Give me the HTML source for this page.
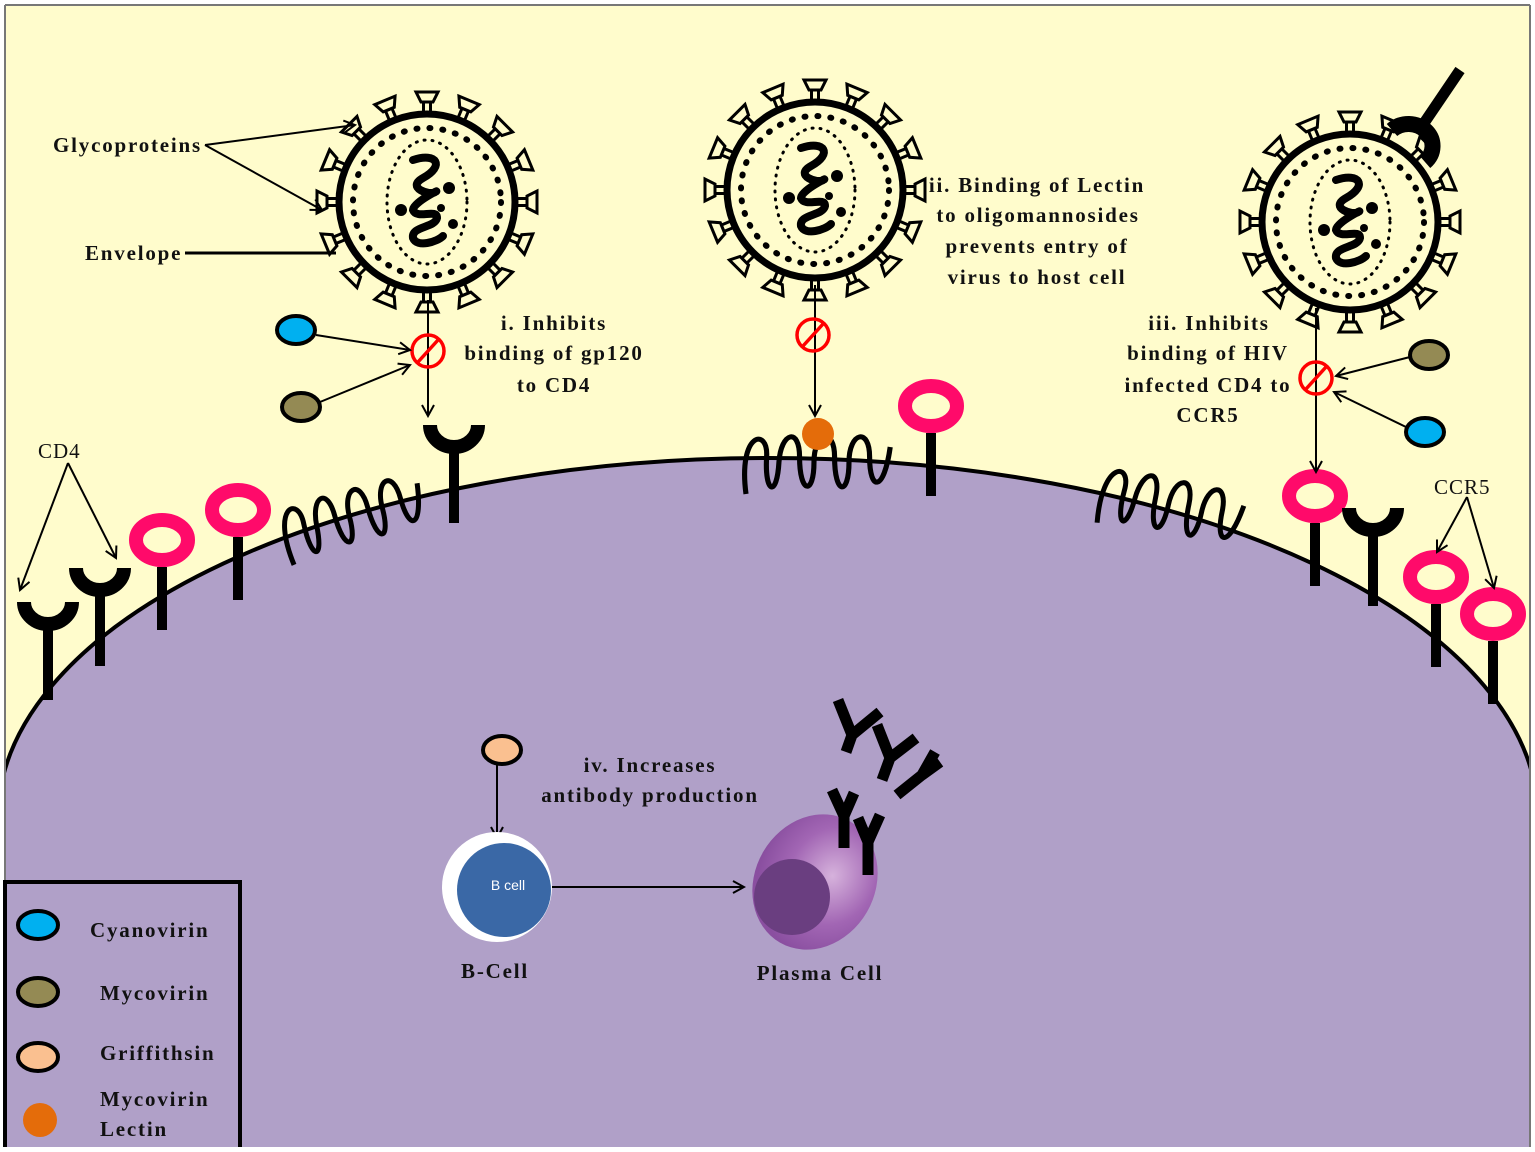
<!DOCTYPE html>
<html><head><meta charset="utf-8"><style>
html,body{margin:0;padding:0;background:#fff;}
svg{display:block;}
text{font-family:"Liberation Serif",serif;font-weight:bold;font-size:21px;fill:#111;letter-spacing:1.8px;}
</style></head><body>
<svg width="1535" height="1152" viewBox="0 0 1535 1152" xmlns="http://www.w3.org/2000/svg">
<defs>
<marker id="ah" markerWidth="14" markerHeight="14" refX="12" refY="7" orient="auto" markerUnits="userSpaceOnUse">
<path d="M1,1 L12,7 L1,13" fill="none" stroke="#000" stroke-width="2"/>
</marker>
<g id="spike">
<rect x="-3.5" y="-100" width="7" height="12" fill="#fffccc" stroke="#000" stroke-width="3"/>
<path d="M-11,-110 L11,-110 L6,-100 L-6,-100Z" fill="#fffccc" stroke="#000" stroke-width="3"/>
</g>
<g id="virus">
<use href="#spike" transform="rotate(0)"/><use href="#spike" transform="rotate(22.5)"/>
<use href="#spike" transform="rotate(45)"/><use href="#spike" transform="rotate(67.5)"/>
<use href="#spike" transform="rotate(90)"/><use href="#spike" transform="rotate(112.5)"/>
<use href="#spike" transform="rotate(135)"/><use href="#spike" transform="rotate(157.5)"/>
<use href="#spike" transform="rotate(180)"/><use href="#spike" transform="rotate(202.5)"/>
<use href="#spike" transform="rotate(225)"/><use href="#spike" transform="rotate(247.5)"/>
<use href="#spike" transform="rotate(270)"/><use href="#spike" transform="rotate(292.5)"/>
<use href="#spike" transform="rotate(315)"/><use href="#spike" transform="rotate(337.5)"/>
<circle r="88" fill="#fffccc" stroke="#000" stroke-width="7"/>
<circle r="74" fill="none" stroke="#000" stroke-width="6" stroke-dasharray="1 12" stroke-linecap="round"/>
<ellipse rx="40" ry="62" fill="none" stroke="#000" stroke-width="3" stroke-dasharray="1 7" stroke-linecap="round"/>
<path d="M-14,-42 C10,-50 18,-36 -4,-24 C-22,-14 4,-6 8,-10 C16,-14 -14,0 -14,8 C-10,18 10,6 10,16 C8,26 -16,24 -14,36 C-10,46 10,40 16,34" fill="none" stroke="#000" stroke-width="8" stroke-linecap="round"/>
<circle cx="22" cy="-14" r="6"/><circle cx="-26" cy="8" r="6"/><circle cx="26" cy="22" r="5"/><circle cx="14" cy="6" r="4"/>
</g>
<path id="coil" d="M0,62 C-8,0 22,-5 20,25 C18,62 30,66 32,30 C34,0 52,-5 52,25 C52,62 66,64 66,30 C66,0 86,-5 86,25 C86,64 100,64 100,30 C100,0 120,-5 120,25 C120,60 134,60 140,15" fill="none" stroke="#000" stroke-width="5"/>
<g id="cd4">
<path d="M-24,0 A24,22 0 0 0 24,0" fill="none" stroke="#000" stroke-width="14"/>
<rect x="-5" y="18" width="10" height="80" fill="#000"/>
</g>
<g id="ccr5">
<rect x="-5" y="27" width="10" height="63" fill="#000"/>
<ellipse rx="26" ry="20" fill="none" stroke="#ff0a6a" stroke-width="14"/>
</g>
<g id="nosym">
<circle r="16" fill="none" stroke="#ff0000" stroke-width="3.5"/>
<line x1="-10" y1="11" x2="10" y2="-11" stroke="#ff0000" stroke-width="3.5"/>
</g>
<radialGradient id="pg" cx="0.6" cy="0.4" r="0.6">
<stop offset="0" stop-color="#d6b2dc"/><stop offset="0.6" stop-color="#a266b4"/><stop offset="1" stop-color="#8a4fa0"/>
</radialGradient>
</defs>

<rect x="5" y="5" width="1525" height="1142" fill="#fffccc" stroke="#777" stroke-width="2"/>
<path d="M-2,818 A770,360 0 0 1 1538,818 L1538,1147 L-2,1147 Z" fill="#b0a0c8"/>
<path d="M-2,818 A770,360 0 0 1 1538,818" fill="none" stroke="#000" stroke-width="4"/>
<rect x="0" y="0" width="5" height="1152" fill="#fff"/>
<rect x="1530" y="0" width="5" height="1152" fill="#fff"/>
<rect x="0" y="1147" width="1535" height="5" fill="#fff"/>
<line x1="5" y1="5" x2="5" y2="1147" stroke="#777" stroke-width="2"/>
<line x1="1530" y1="5" x2="1530" y2="1147" stroke="#777" stroke-width="2"/>

<use href="#virus" transform="translate(427,202)"/>
<use href="#virus" transform="translate(815,190)"/>
<use href="#virus" transform="translate(1350,222)"/>
<line x1="1460" y1="70" x2="1418" y2="132" stroke="#000" stroke-width="11"/>
<path d="M1392,130 A24,22 0 1 1 1425,162" fill="none" stroke="#000" stroke-width="16"/>

<use href="#cd4" transform="translate(48,602)"/>
<use href="#cd4" transform="translate(100,568)"/>
<use href="#ccr5" transform="translate(162,540)"/>
<use href="#ccr5" transform="translate(238,510)"/>
<use href="#coil" transform="translate(278,505) rotate(-15)"/>
<use href="#cd4" transform="translate(454,425)"/>
<use href="#coil" transform="translate(746,432) scale(1.03,1)"/>
<use href="#ccr5" transform="translate(931,406)"/>
<use href="#coil" transform="translate(1110,462) rotate(12)"/>
<use href="#ccr5" transform="translate(1315,496)"/>
<use href="#cd4" transform="translate(1373,508)"/>
<use href="#ccr5" transform="translate(1436,577)"/>
<use href="#ccr5" transform="translate(1493,614)"/>

<circle cx="818" cy="434" r="16" fill="#e46c0a"/>

<line x1="428" y1="300" x2="428" y2="416" stroke="#000" stroke-width="2" marker-end="url(#ah)"/>
<line x1="815" y1="285" x2="815" y2="416" stroke="#000" stroke-width="2" marker-end="url(#ah)"/>
<line x1="1316" y1="308" x2="1316" y2="472" stroke="#000" stroke-width="2" marker-end="url(#ah)"/>
<use href="#nosym" transform="translate(428,351)"/>
<use href="#nosym" transform="translate(813,335)"/>
<use href="#nosym" transform="translate(1316,378)"/>

<ellipse cx="296" cy="330" rx="19" ry="14" fill="#00b0f0" stroke="#000" stroke-width="4"/>
<ellipse cx="301" cy="407" rx="19" ry="14" fill="#948a54" stroke="#000" stroke-width="4"/>
<ellipse cx="1429" cy="355" rx="19" ry="14" fill="#948a54" stroke="#000" stroke-width="4"/>
<ellipse cx="1425" cy="432" rx="19" ry="14" fill="#00b0f0" stroke="#000" stroke-width="4"/>
<line x1="316" y1="335" x2="410" y2="350" stroke="#000" stroke-width="2" marker-end="url(#ah)"/>
<line x1="320" y1="402" x2="410" y2="365" stroke="#000" stroke-width="2" marker-end="url(#ah)"/>
<line x1="1410" y1="357" x2="1336" y2="376" stroke="#000" stroke-width="2" marker-end="url(#ah)"/>
<line x1="1406" y1="427" x2="1334" y2="392" stroke="#000" stroke-width="2" marker-end="url(#ah)"/>

<line x1="205" y1="145" x2="355" y2="125" stroke="#000" stroke-width="2" marker-end="url(#ah)"/>
<line x1="205" y1="145" x2="322" y2="210" stroke="#000" stroke-width="2" marker-end="url(#ah)"/>
<line x1="185" y1="253" x2="336" y2="253" stroke="#000" stroke-width="3"/>
<line x1="68" y1="463" x2="20" y2="590" stroke="#000" stroke-width="2" marker-end="url(#ah)"/>
<line x1="68" y1="463" x2="116" y2="558" stroke="#000" stroke-width="2" marker-end="url(#ah)"/>
<line x1="1467" y1="497" x2="1437" y2="552" stroke="#000" stroke-width="2" marker-end="url(#ah)"/>
<line x1="1467" y1="497" x2="1494" y2="588" stroke="#000" stroke-width="2" marker-end="url(#ah)"/>

<text x="53" y="152">Glycoproteins</text>
<text x="85" y="260">Envelope</text>
<g text-anchor="middle">
<text x="554" y="330">i. Inhibits</text>
<text x="554" y="360">binding of gp120</text>
<text x="554" y="392">to CD4</text>
<text x="1037" y="192">ii. Binding of Lectin</text>
<text x="1038" y="222">to oligomannosides</text>
<text x="1037" y="253">prevents entry of</text>
<text x="1037" y="284">virus to host cell</text>
<text x="1209" y="330">iii. Inhibits</text>
<text x="1208" y="360">binding of HIV</text>
<text x="1208" y="392">infected CD4 to</text>
<text x="1208" y="422">CCR5</text>
<text x="650" y="772">iv. Increases</text>
<text x="650" y="802">antibody production</text>
<text x="495" y="978">B-Cell</text>
<text x="820" y="980">Plasma Cell</text>
</g>
<text x="38" y="458" style="font-weight:normal;letter-spacing:1px">CD4</text>
<text x="1434" y="494" style="font-weight:normal;letter-spacing:1px">CCR5</text>

<ellipse cx="502" cy="750" rx="19" ry="14" fill="#fac090" stroke="#000" stroke-width="4"/>
<line x1="497" y1="765" x2="497" y2="838" stroke="#000" stroke-width="2" marker-end="url(#ah)"/>
<circle cx="497" cy="887" r="55" fill="#fff"/>
<circle cx="504" cy="890" r="47" fill="#3a68a6"/>
<text x="508" y="890" text-anchor="middle" style="font-family:'Liberation Sans',sans-serif;font-weight:normal;font-size:14px;fill:#fff;letter-spacing:0">B cell</text>
<line x1="552" y1="887" x2="744" y2="887" stroke="#000" stroke-width="2" marker-end="url(#ah)"/>

<ellipse cx="815" cy="882" rx="60" ry="70" transform="rotate(30 815 882)" fill="url(#pg)"/>
<circle cx="792" cy="897" r="38" fill="#6a3e80"/>
<g fill="none" stroke="#000" stroke-width="11" stroke-linejoin="miter">
<path d="M838,700 L852,735 L880,712 M852,735 L846,752"/>
<path d="M877,725 L890,758 L916,738 M890,758 L882,780"/>
<path d="M940,762 L922,775 L935,752 M922,775 L897,795"/>
<path d="M832,790 L844,816 L854,793 M844,816 L844,848"/>
<path d="M858,818 L868,842 L880,815 M868,842 L868,875"/>
</g>

<rect x="5" y="882" width="235" height="270" fill="#b0a0c8" stroke="#000" stroke-width="4"/>
<rect x="0" y="1147" width="260" height="5" fill="#fff"/>
<ellipse cx="38" cy="925" rx="20" ry="14" fill="#00b0f0" stroke="#000" stroke-width="4"/>
<ellipse cx="38" cy="992" rx="20" ry="14" fill="#948a54" stroke="#000" stroke-width="4"/>
<ellipse cx="38" cy="1057" rx="20" ry="14" fill="#fac090" stroke="#000" stroke-width="4"/>
<circle cx="40" cy="1120" r="17" fill="#e46c0a"/>
<text x="90" y="937">Cyanovirin</text>
<text x="100" y="1000">Mycovirin</text>
<text x="100" y="1060">Griffithsin</text>
<text x="100" y="1106">Mycovirin</text>
<text x="100" y="1136">Lectin</text>
</svg>
</body></html>
